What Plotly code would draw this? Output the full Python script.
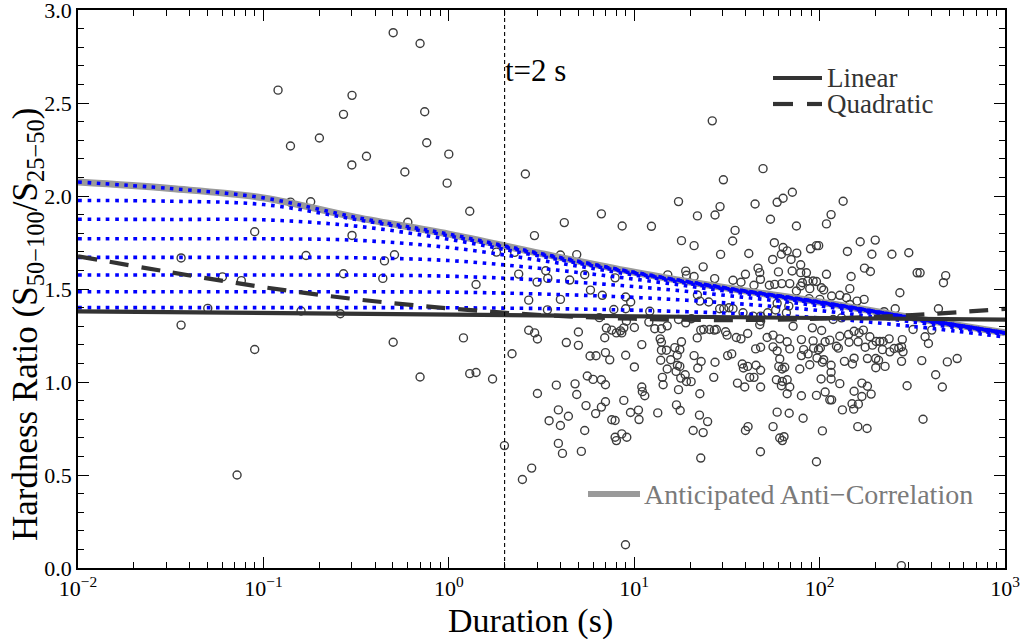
import numpy as np
import plotly.graph_objects as go

# ---------------- data ----------------
# burst durations stored as log10(seconds), hardness ratio
burst_log10_duration = [
    -0.300, -0.155, -0.921, -0.522, -0.568, -0.130, -0.854, -0.698, -0.119, -0.444,
    -0.523, 0.000, -0.237, -0.009, -0.854, -0.745, 0.113, -0.221, -1.047, -0.522,
    -1.444, -0.770, -0.293, -0.347, 0.257, -1.221, -1.119, -0.568, -0.356, 0.147,
    -1.300, -0.797, -0.585, -1.444, -1.047, -0.300, 0.079, -0.155, 0.113, 0.147,
    0.236, -1.142,
    0.413, 0.623, 0.462, 0.602, 0.690, 0.377, 0.523, 0.476, 0.534, 0.652,
    0.733, 0.764, 0.431, 0.602, 0.532, 0.812, 0.431, 0.463, 0.478, 0.634,
    0.699, 0.699, 0.841, 0.341, 0.762, 0.794, 0.747, 0.778, 0.580, 0.681,
    0.690, 0.478, 0.591, 0.541, 0.602, 0.645, 0.740, 0.792, 0.733, 0.300,
    0.591, 0.613, 0.715, 0.447, 0.397, 0.355,
    0.823, 0.935, 1.093, 1.239, 1.341, 1.255, 1.323, 1.372, 1.181, 1.278,
    1.282, 1.323, 0.897, 0.828, 0.954, 0.981, 1.341, 1.354, 0.890, 0.954,
    1.084, 1.239, 1.278, 1.309, 1.359, 0.958, 0.944, 0.926, 0.850, 0.879,
    0.904, 0.933, 1.001, 1.041, 1.079, 1.111, 1.147, 1.178, 1.140, 1.147,
    1.147, 1.174, 1.219, 1.246, 1.255, 1.232, 1.340, 0.845, 0.868, 0.954,
    1.001, 1.143, 1.197, 1.233, 1.246, 1.178, 1.343, 1.323, 1.361, 0.823,
    0.845, 1.152, 1.156, 1.226, 1.251, 1.275, 1.282, 1.307, 1.041, 1.044,
    1.057, 1.239, 1.354, 0.845, 0.823, 0.944, 0.980, 1.023, 1.026, 1.127,
    1.228, 1.248, 1.352, 0.879, 0.897, 1.318, 1.372, 0.897, 0.904, 0.933,
    0.960, 1.359, 0.953,
    1.421, 1.695, 1.481, 1.853, 1.803, 1.771, 1.652, 1.463, 1.436, 1.735,
    1.875, 1.544, 1.531, 1.756, 1.803, 1.825, 1.794, 1.877, 1.466, 1.618,
    1.747, 1.846, 1.668, 1.677, 1.681, 1.898, 1.898, 1.778, 1.852, 1.600,
    1.533, 1.576, 1.729, 1.758, 1.796, 1.839, 1.875, 1.646, 1.434, 1.898,
    1.461, 1.483, 1.511, 1.533, 1.402, 1.587, 1.641, 1.677, 1.682, 1.682,
    1.720, 1.771, 1.763, 1.821, 1.834, 1.375, 1.407, 1.432, 1.443, 1.493,
    1.501, 1.551, 1.576, 1.612, 1.717, 1.749, 1.785, 1.825, 1.839, 1.749,
    1.771, 1.857, 1.902, 1.902, 1.655, 1.682, 1.504, 1.526, 1.436, 1.429,
    1.583, 1.589, 1.612, 1.657, 1.682, 1.557, 1.596, 1.623, 1.646, 1.682,
    1.785, 1.780, 1.798, 1.812, 1.767, 1.799, 1.825, 1.794, 1.839, 1.825,
    1.893, 1.902, 1.396, 1.771, 1.836, 1.911, 1.749, 1.614, 1.600, 1.785,
    1.799, 1.808, 1.681,
    2.127, 2.062, 2.037, 2.219, 2.300, 2.150, 2.282, 2.390, 1.951, 1.983,
    1.995, 2.242, 2.274, 1.929, 2.037, 2.170, 1.907, 1.936, 1.965, 1.983,
    1.947, 2.010, 2.022, 2.163, 2.433, 2.065, 2.109, 2.145, 2.001, 1.943,
    2.202, 2.240, 2.163, 2.408, 2.348, 1.961, 2.011, 2.073, 2.118, 2.109,
    2.156, 2.186, 2.213, 2.236, 2.271, 2.305, 2.325, 2.343, 2.375, 2.427,
    2.442, 1.965, 2.030, 2.055, 2.159, 2.208, 2.246, 1.914, 1.968, 1.994,
    2.004, 2.091, 2.101, 2.285, 2.339, 2.379, 2.402, 1.938, 1.986, 2.015,
    2.022, 2.062, 2.134, 2.177, 2.186, 2.258, 2.303, 2.318, 2.303, 2.353,
    2.442, 1.947, 2.062, 2.008, 2.062, 2.109, 2.228, 2.258, 2.186, 2.278,
    2.228, 1.983, 2.030, 2.055, 2.065, 2.123, 2.175, 2.209, 2.184, 2.015,
    2.206, 2.256, 1.983,
    2.481, 2.526, 2.542, 2.680, 2.668, 2.641, 2.504, 2.569, 2.605, 2.587,
    2.450, 2.551, 2.689, 2.742, 2.626, 2.662, 2.472, 2.558, 2.441, 2.446,
]
burst_hardness = [
    2.878, 2.820, 2.569, 2.541, 2.439, 2.453, 2.269, 2.312, 2.286, 2.214,
    2.167, 2.225, 2.129, 2.069, 1.967, 1.969, 1.918, 1.859, 1.808, 1.788,
    1.667, 1.680, 1.684, 1.651, 1.698, 1.565, 1.545, 1.582, 1.557, 1.524,
    1.396, 1.382, 1.367, 1.306, 1.175, 1.214, 1.237, 1.027, 1.045, 1.051,
    1.016, 0.500,
    2.118, 1.857, 1.787, 1.683, 1.685, 1.580, 1.598, 1.537, 1.557, 1.548,
    1.577, 1.494, 1.440, 1.444, 1.388, 1.346, 1.278, 1.264, 1.231, 1.212,
    1.269, 1.197, 1.238, 1.152, 1.140, 1.141, 1.032, 1.014, 0.983, 0.990,
    0.933, 0.938, 0.850, 0.792, 0.766, 0.816, 0.873, 0.830, 0.739, 0.658,
    0.670, 0.616, 0.627, 0.537, 0.476, 1.697,
    1.904, 1.839, 1.837, 1.970, 1.893, 1.760, 1.733, 1.619, 1.576, 1.596,
    1.574, 1.567, 1.560, 1.466, 1.457, 1.430, 1.468, 1.435, 1.390, 1.394,
    1.380, 1.336, 1.318, 1.340, 1.279, 1.327, 1.291, 1.275, 1.290, 1.279,
    1.264, 1.264, 1.293, 1.201, 1.322, 1.286, 1.286, 1.302, 1.232, 1.214,
    1.171, 1.171, 1.185, 1.174, 1.216, 1.144, 1.237, 1.158, 1.119, 1.144,
    1.081, 1.117, 1.120, 1.090, 1.084, 1.070, 1.075, 1.142, 1.110, 1.012,
    0.985, 1.025, 0.985, 1.057, 1.021, 1.039, 1.003, 1.002, 0.973, 0.948,
    0.926, 0.959, 0.937, 0.894, 0.865, 0.901, 0.836, 0.849, 0.798, 0.834,
    0.877, 0.847, 0.822, 0.797, 0.793, 0.739, 0.728, 0.703, 0.685, 0.721,
    0.703, 0.591, 0.125,
    2.404, 2.147, 2.087, 2.020, 1.988, 1.966, 1.957, 1.943, 1.898, 1.875,
    1.839, 1.815, 1.758, 1.749, 1.723, 1.705, 1.687, 1.693, 1.686, 1.691,
    1.659, 1.659, 1.612, 1.588, 1.552, 1.630, 1.588, 1.592, 1.597, 1.579,
    1.547, 1.536, 1.520, 1.525, 1.529, 1.529, 1.489, 1.520, 1.556, 1.516,
    1.394, 1.394, 1.399, 1.394, 1.430, 1.372, 1.354, 1.308, 1.327, 1.354,
    1.372, 1.423, 1.387, 1.372, 1.408, 1.282, 1.282, 1.279, 1.282, 1.270,
    1.252, 1.239, 1.232, 1.261, 1.239, 1.252, 1.232, 1.216, 1.178, 1.189,
    1.167, 1.300, 1.228, 1.142, 1.178, 1.187, 1.142, 1.151, 1.106, 1.025,
    1.097, 1.075, 1.084, 1.090, 1.063, 0.994, 0.973, 1.025, 1.025, 0.973,
    1.124, 1.084, 1.070, 1.079, 1.012, 1.003, 1.012, 0.980, 0.973, 0.937,
    1.070, 0.926, 0.787, 0.838, 0.832, 0.805, 0.760, 0.760, 0.739, 0.699,
    0.685, 0.706, 0.625,
    1.972, 1.900, 1.850, 1.754, 1.763, 1.702, 1.687, 1.687, 1.716, 1.733,
    1.733, 1.612, 1.594, 1.587, 1.579, 1.567, 1.534, 1.543, 1.543, 1.540,
    1.502, 1.507, 1.495, 1.502, 1.480, 1.462, 1.466, 1.453, 1.444, 1.448,
    1.435, 1.444, 1.417, 1.394, 1.378, 1.291, 1.277, 1.336, 1.345, 1.246,
    1.255, 1.273, 1.264, 1.279, 1.243, 1.218, 1.218, 1.218, 1.232, 1.183,
    1.189, 1.221, 1.216, 1.225, 1.214, 1.216, 1.187, 1.174, 1.182, 1.174,
    1.183, 1.192, 1.182, 1.198, 1.174, 1.162, 1.180, 1.151, 1.129, 1.106,
    1.120, 1.090, 1.111, 1.097, 1.128, 1.126, 1.126, 1.117, 1.077, 1.084,
    1.111, 1.093, 1.052, 1.016, 1.016, 0.991, 0.994, 0.977, 0.950, 0.935,
    0.922, 0.928, 0.946, 0.904, 0.904, 0.850, 0.883, 0.881, 0.854, 0.737,
    0.760, 0.750, 0.571,
    1.695, 1.587, 1.587, 1.572, 1.534, 1.394, 1.282, 1.243, 1.279, 1.207,
    1.162, 1.115, 1.108, 1.126, 1.039, 0.973, 0.980, 0.800, 0.013, 1.228,
]

# model curves, sampled on log10(duration)
model_log10_duration = [-2.0, -1.5, -1.0, -0.5, 0.0, 0.5, 1.0, 1.5, 2.0, 2.5, 3.0]
anticorrelation_hr = [2.075, 2.04, 1.99, 1.885, 1.795, 1.69, 1.59, 1.505, 1.43, 1.345, 1.265]
track_1 = [1.400, 1.400, 1.400, 1.400, 1.399, 1.395, 1.386, 1.370, 1.345, 1.299, 1.242]
track_2 = [1.485, 1.485, 1.485, 1.485, 1.483, 1.473, 1.455, 1.425, 1.384, 1.323, 1.255]
track_3 = [1.575, 1.575, 1.575, 1.575, 1.569, 1.548, 1.513, 1.465, 1.409, 1.336, 1.261]
track_4 = [1.670, 1.670, 1.670, 1.668, 1.653, 1.610, 1.553, 1.488, 1.421, 1.341, 1.263]
track_5 = [1.770, 1.770, 1.770, 1.762, 1.723, 1.653, 1.575, 1.498, 1.427, 1.344, 1.264]
track_6 = [1.875, 1.874, 1.872, 1.838, 1.767, 1.675, 1.584, 1.503, 1.429, 1.345, 1.265]
track_7 = [1.976, 1.972, 1.954, 1.874, 1.786, 1.685, 1.588, 1.504, 1.430, 1.345, 1.265]
quadratic_hr = [1.676, 1.590, 1.510, 1.445, 1.396, 1.360, 1.340, 1.333, 1.340, 1.360, 1.393]
linear_log10_duration = [-2.0, 3.0]
linear_hr = [1.380, 1.335]
split_duration = 2.0

x_tick_values = [0.01, 0.1, 1, 10, 100, 1000]
x_tick_labels = ["10<sup>\u22122</sup>", "10<sup>\u22121</sup>", "10<sup>0</sup>",
                 "10<sup>1</sup>", "10<sup>2</sup>", "10<sup>3</sup>"]
x_minor_values = [m * d for d in [0.01, 0.1, 1, 10, 100] for m in range(2, 10)]

# ---------------- figure ----------------
FONT = "Liberation Serif, Times New Roman, serif"
model_x = [10 ** v for v in model_log10_duration]

fig = go.Figure()

fig.add_trace(go.Scatter(
    x=[10 ** v for v in burst_log10_duration], y=burst_hardness, mode="markers",
    marker=dict(symbol="circle-open", size=8, color="#3c3c3c", line=dict(width=1.4, color="#3c3c3c")),
    showlegend=False, hoverinfo="x+y"))

fig.add_trace(go.Scatter(
    x=model_x, y=anticorrelation_hr, mode="lines", line=dict(color="#9a9a9a", width=7, shape="spline"),
    showlegend=False))

for tr in [track_1, track_2, track_3, track_4, track_5, track_6, track_7, anticorrelation_hr]:
    fig.add_trace(go.Scatter(
        x=model_x, y=tr, mode="lines",
        line=dict(color="#0000ff", width=3.6, dash="3.6px,5.6px", shape="spline"),
        showlegend=False, hoverinfo="skip"))

fig.add_trace(go.Scatter(
    x=model_x, y=quadratic_hr, mode="lines",
    line=dict(color="#333333", width=4.2, dash="19px,13px", shape="spline"), showlegend=False))
fig.add_trace(go.Scatter(
    x=[10 ** v for v in linear_log10_duration], y=linear_hr, mode="lines",
    line=dict(color="#333333", width=4.2), showlegend=False))

fig.add_trace(go.Scatter(
    x=[split_duration, split_duration], y=[0, 3], mode="lines",
    line=dict(color="black", width=1.1, dash="4px,3px"), showlegend=False, hoverinfo="skip"))

# page pixel -> paper coordinates (plot area spans 78..1005 x 10..568)
def px(X):
    return (X - 78) / 927.0

def py(Y):
    return (568 - Y) / 558.0

shapes = [
    dict(type="line", xref="paper", yref="paper", x0=px(773), x1=px(822), y0=py(78), y1=py(78),
         line=dict(color="#333333", width=4.2)),
    dict(type="line", xref="paper", yref="paper", x0=px(773), x1=px(793), y0=py(104), y1=py(104),
         line=dict(color="#333333", width=4.2)),
    dict(type="line", xref="paper", yref="paper", x0=px(807), x1=px(822), y0=py(104), y1=py(104),
         line=dict(color="#333333", width=4.2)),
    dict(type="line", xref="paper", yref="paper", x0=px(588), x1=px(640), y0=py(494), y1=py(494),
         line=dict(color="#9a9a9a", width=6)),
]
annotations = [
    dict(text="Linear", xref="paper", yref="paper", x=px(825), y=py(78), xanchor="left", yanchor="middle",
         showarrow=False, font=dict(family=FONT, size=27, color="#333333")),
    dict(text="Quadratic", xref="paper", yref="paper", x=px(825), y=py(104), xanchor="left", yanchor="middle",
         showarrow=False, font=dict(family=FONT, size=27, color="#333333")),
    dict(text="Anticipated Anti\u2212Correlation", xref="paper", yref="paper", x=px(642), y=py(494),
         xanchor="left", yanchor="middle", showarrow=False,
         font=dict(family=FONT, size=28, color="#7a7a7a")),
    dict(text="t=2 s", x=np.log10(split_duration), y=2.675, xref="x", yref="y", xanchor="left",
         yanchor="middle", xshift=-2, showarrow=False, font=dict(family=FONT, size=31, color="black")),
    dict(text="Duration (s)", xref="paper", yref="paper", x=px(530), y=py(621), xanchor="center",
         yanchor="middle", showarrow=False, font=dict(family=FONT, size=34, color="black")),
    dict(text="Hardness Ratio (S<sub>50\u2212100</sub>/S<sub>25\u221250</sub>)", xref="paper", yref="paper",
         x=px(28), y=py(325), xanchor="center", yanchor="middle", textangle=-90, showarrow=False,
         font=dict(family=FONT, size=35, color="black")),
]

fig.update_layout(
    width=1021, height=639,
    margin=dict(l=78, r=16, t=10, b=71, autoexpand=False),
    paper_bgcolor="white", plot_bgcolor="white",
    font=dict(family=FONT, color="black"),
    shapes=shapes, annotations=annotations,
    showlegend=False,
)

fig.update_xaxes(
    type="log", range=[-2, 3], tickmode="array", tickvals=x_tick_values, ticktext=x_tick_labels,
    ticks="inside", ticklen=11, tickwidth=1.3, tickcolor="black", ticklabeloverflow="allow",
    showline=True, linecolor="black", linewidth=1.5, mirror="ticks",
    showgrid=False, zeroline=False, automargin=False,
    minor=dict(tickmode="array", tickvals=x_minor_values, ticks="inside", ticklen=6,
               tickwidth=1.1, tickcolor="black", showgrid=False),
    tickfont=dict(family=FONT, size=22, color="black"),
)
fig.update_yaxes(
    range=[0, 3], tickmode="linear", tick0=0, dtick=0.5, tickformat=".1f",
    ticks="inside", ticklen=11, tickwidth=1.3, tickcolor="black", ticklabeloverflow="allow",
    showline=True, linecolor="black", linewidth=1.5, mirror="ticks",
    showgrid=False, zeroline=False, automargin=False,
    minor=dict(dtick=0.1, ticks="inside", ticklen=6, tickwidth=1.1, tickcolor="black", showgrid=False),
    tickfont=dict(family=FONT, size=22, color="black"),
)

# remove the page's default 8 px body margin so the figure fills the window exactly
fig.write_html(
    "out.html",
    config={"displayModeBar": False},
    post_script="document.documentElement.style.margin='0';document.body.style.margin='0';"
                "document.body.style.overflow='hidden';",
)
